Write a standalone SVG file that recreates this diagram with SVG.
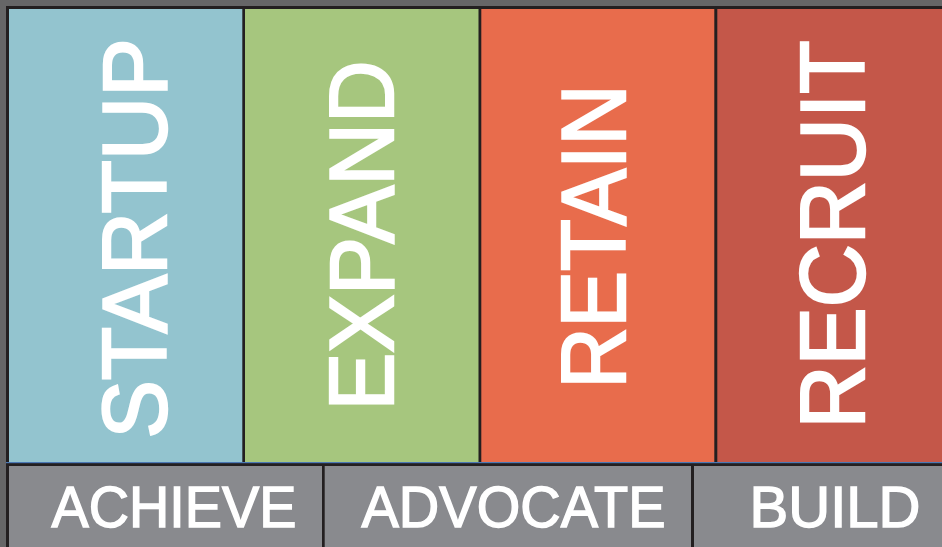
<svg xmlns="http://www.w3.org/2000/svg" width="942" height="547" viewBox="0 0 942 547">
<style>
.big{font-family:"Liberation Sans",Arial,sans-serif;font-size:90px;fill:#ffffff;stroke:#ffffff;stroke-width:2.4px;stroke-linejoin:miter;text-anchor:middle}
.small{font-family:"Liberation Sans",Arial,sans-serif;font-size:57px;fill:#ffffff;stroke:#ffffff;stroke-width:1.4px;text-anchor:middle}
.dark{fill:#231f20}
.gray{fill:#898a8e}
</style>
<rect x="0" y="0" width="942" height="547" fill="#666667"/>
<rect x="6" y="6" width="936" height="541" class="dark"/>
<g id="startup">
<rect x="9" y="9" width="233.3" height="453" fill="#93c4cf"/>
<text class="big" transform="translate(165.5,238.5) rotate(-90)" textLength="400" lengthAdjust="spacingAndGlyphs">STARTUP</text>
</g>
<g id="expand">
<rect x="245" y="9" width="233.5" height="453" fill="#a6c67e"/>
<text class="big" transform="translate(392.5,235.5) rotate(-90)" textLength="350" lengthAdjust="spacingAndGlyphs">EXPAND</text>
</g>
<g id="retain">
<rect x="481.3" y="9" width="233" height="453" fill="#e86c4c"/>
<text class="big" transform="translate(624.5,236.5) rotate(-90)" textLength="304" lengthAdjust="spacingAndGlyphs">RETAIN</text>
</g>
<g id="recruit">
<rect x="717.3" y="9" width="224.7" height="453" fill="#c45749"/>
<text class="big" transform="translate(863.5,234.5) rotate(-90)" textLength="388" lengthAdjust="spacingAndGlyphs">RECRUIT</text>
</g>
<rect x="6" y="462" width="936" height="1.2" fill="#4a78b4"/>
<g id="achieve">
<rect x="9" y="466" width="313" height="81" class="gray"/>
<text class="small" x="174" y="526.5" textLength="245" lengthAdjust="spacingAndGlyphs">ACHIEVE</text>
</g>
<g id="advocate">
<rect x="324.7" y="466" width="366.3" height="81" class="gray"/>
<text class="small" x="513.5" y="526.5" textLength="304" lengthAdjust="spacingAndGlyphs">ADVOCATE</text>
</g>
<g id="build">
<rect x="694" y="466" width="248" height="81" class="gray"/>
<text class="small" x="835" y="526.5" textLength="171" lengthAdjust="spacingAndGlyphs">BUILD</text>
</g>
<g id="connectors"></g>
</svg>
